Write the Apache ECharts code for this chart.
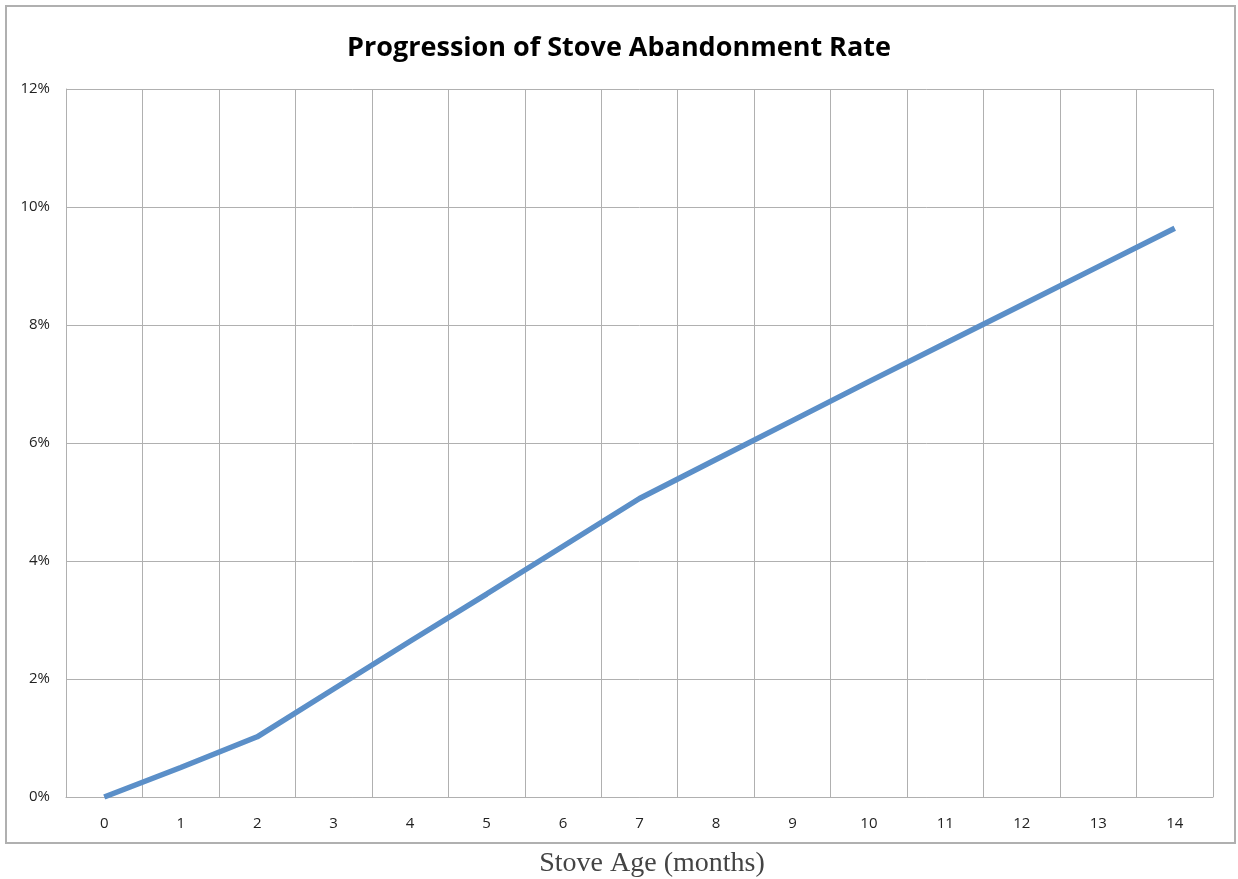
<!DOCTYPE html>
<html>
<head>
<meta charset="utf-8">
<script src="https://cdn.jsdelivr.net/npm/echarts@6/dist/echarts.min.js"></script>
<style>
html,body{margin:0;padding:0;background:#fff;}
#main{width:1238px;height:879px;}
</style>
</head>
<body>
<div id="main"></div>
<script>
// 月份
var months = ['0','1','2','3','4','5','6','7','8','9','10','11','12','13','14'];
// 弃用率 (%)
var rate = [0, 0.5, 1.02, 1.83, 2.64, 3.44, 4.25, 5.06, 5.72, 6.38, 7.04, 7.69, 8.34, 8.99, 9.64];
var yTicks = [0, 2, 4, 6, 8, 10, 12];

var myChart = echarts.init(document.getElementById('main'));
var grey = '#b0b0b0';
var option = {
    backgroundColor: '#fff',
    title: {
        text: 'Progression of Stove Abandonment Rate',
        left: 'center',
        top: 30,
        textStyle: {fontFamily: 'Open Sans', fontWeight: 'bold', fontSize: 27, color: '#000'}
    },
    graphic: [{
        type: 'rect',
        shape: {x: 6, y: 6, width: 1229, height: 837},
        style: {fill: 'none', stroke: grey, lineWidth: 2},
        silent: true
    }],
    grid: {left: 66, right: 25, top: 89, bottom: 82, outerBoundsMode: 'none', containLabel: false},
    xAxis: {
        type: 'category',
        data: months,
        boundaryGap: true,
        name: 'Stove Age (months)',
        nameLocation: 'middle',
        nameGap: 53,
        nameTextStyle: {fontFamily: 'Liberation Serif', fontSize: 28, color: '#444', padding: [0, 0, 0, 25]},
        axisLine: {lineStyle: {color: grey, width: 1}},
        axisTick: {show: false},
        axisLabel: {fontFamily: 'Open Sans', fontSize: 15, color: '#222', margin: 19},
        splitLine: {show: true, lineStyle: {color: grey, width: 1}}
    },
    yAxis: {
        type: 'value',
        min: yTicks[0],
        max: yTicks[yTicks.length - 1],
        interval: 2,
        axisLine: {show: true, lineStyle: {color: grey, width: 1}},
        axisTick: {show: false},
        axisLabel: {formatter: '{value}%', fontFamily: 'Open Sans', fontSize: 15, color: '#222', margin: 16},
        splitLine: {show: true, lineStyle: {color: grey, width: 1}}
    },
    series: [{
        name: 'rate',
        type: 'line',
        data: rate,
        symbol: 'none',
        lineStyle: {color: '#5b8fc8', width: 5.5},
        animation: false
    }]
};
myChart.setOption(option);
</script>
</body>
</html>
